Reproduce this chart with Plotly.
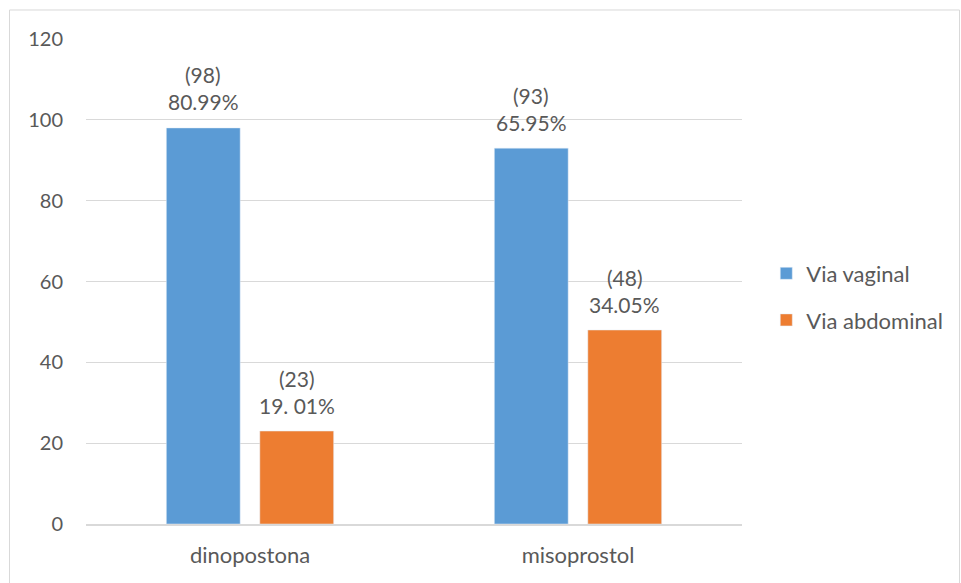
import plotly.graph_objects as go

# Data
categories = ["dinopostona", "misoprostol"]
vaginal = [98, 93]
abdominal = [23, 48]
vaginal_pct = ["80.99%", "65.95%"]
abdominal_pct = ["19. 01%", "34.05%"]
series_names = ["Via vaginal", "Via abdominal"]
y_ticks = [0, 20, 40, 60, 80, 100, 120]

BLUE = "#5B9BD5"
ORANGE = "#ED7D31"
TEXT = "#595959"
GRID = "#D9D9D9"
FONT = "Lato, Calibri, sans-serif"

fig = go.Figure()
fig.add_trace(go.Bar(name=series_names[0], x=categories, y=vaginal,
                     marker=dict(color=BLUE), legendgroup="a"))
fig.add_trace(go.Bar(name=series_names[1], x=categories, y=abdominal,
                     marker=dict(color=ORANGE), legendgroup="b"))

# value labels: count on top, percentage just above the bar
annotations = []
for vals, pcts, shift in [(vaginal, vaginal_pct, -46.75), (abdominal, abdominal_pct, 46.75)]:
    for cat, v, p in zip(categories, vals, pcts):
        annotations.append(dict(x=cat, y=v, xref="x", yref="y", text=p, showarrow=False,
                                xshift=shift, yshift=26, font=dict(size=21, color=TEXT, family=FONT)))
        annotations.append(dict(x=cat, y=v, xref="x", yref="y", text=f"({v})", showarrow=False,
                                xshift=shift, yshift=53, font=dict(size=21, color=TEXT, family=FONT)))

fig.update_layout(
    width=961, height=583,
    margin=dict(l=86, r=219, t=39, b=59),
    paper_bgcolor="white", plot_bgcolor="white",
    font=dict(family=FONT, color=TEXT, size=20),
    barmode="group", bargap=0.43, bargroupgap=0.21,
    showlegend=True,
    legend=dict(x=1.037, y=0.468, xanchor="left", yanchor="middle",
                font=dict(size=22, color=TEXT, family=FONT),
                tracegroupgap=15, traceorder="grouped", itemwidth=30),
    annotations=annotations,
    shapes=[dict(type="rect", xref="paper", yref="paper",
                 x0=-0.1166, x1=1.3316, y0=-0.3, y1=1.0598,
                 line=dict(color=GRID, width=1), fillcolor="rgba(0,0,0,0)", layer="below")],
)
fig.update_xaxes(showgrid=False, showline=True, linecolor=GRID, linewidth=2,
                 ticks="", ticklabelstandoff=11, tickfont=dict(size=22, color=TEXT))
fig.update_yaxes(range=[0, 120], tickvals=y_ticks, showgrid=True, gridcolor=GRID, gridwidth=1,
                 zeroline=False, showline=False, ticks="", ticklabelstandoff=22,
                 tickfont=dict(size=20, color=TEXT))

fig.write_html("out.html")
